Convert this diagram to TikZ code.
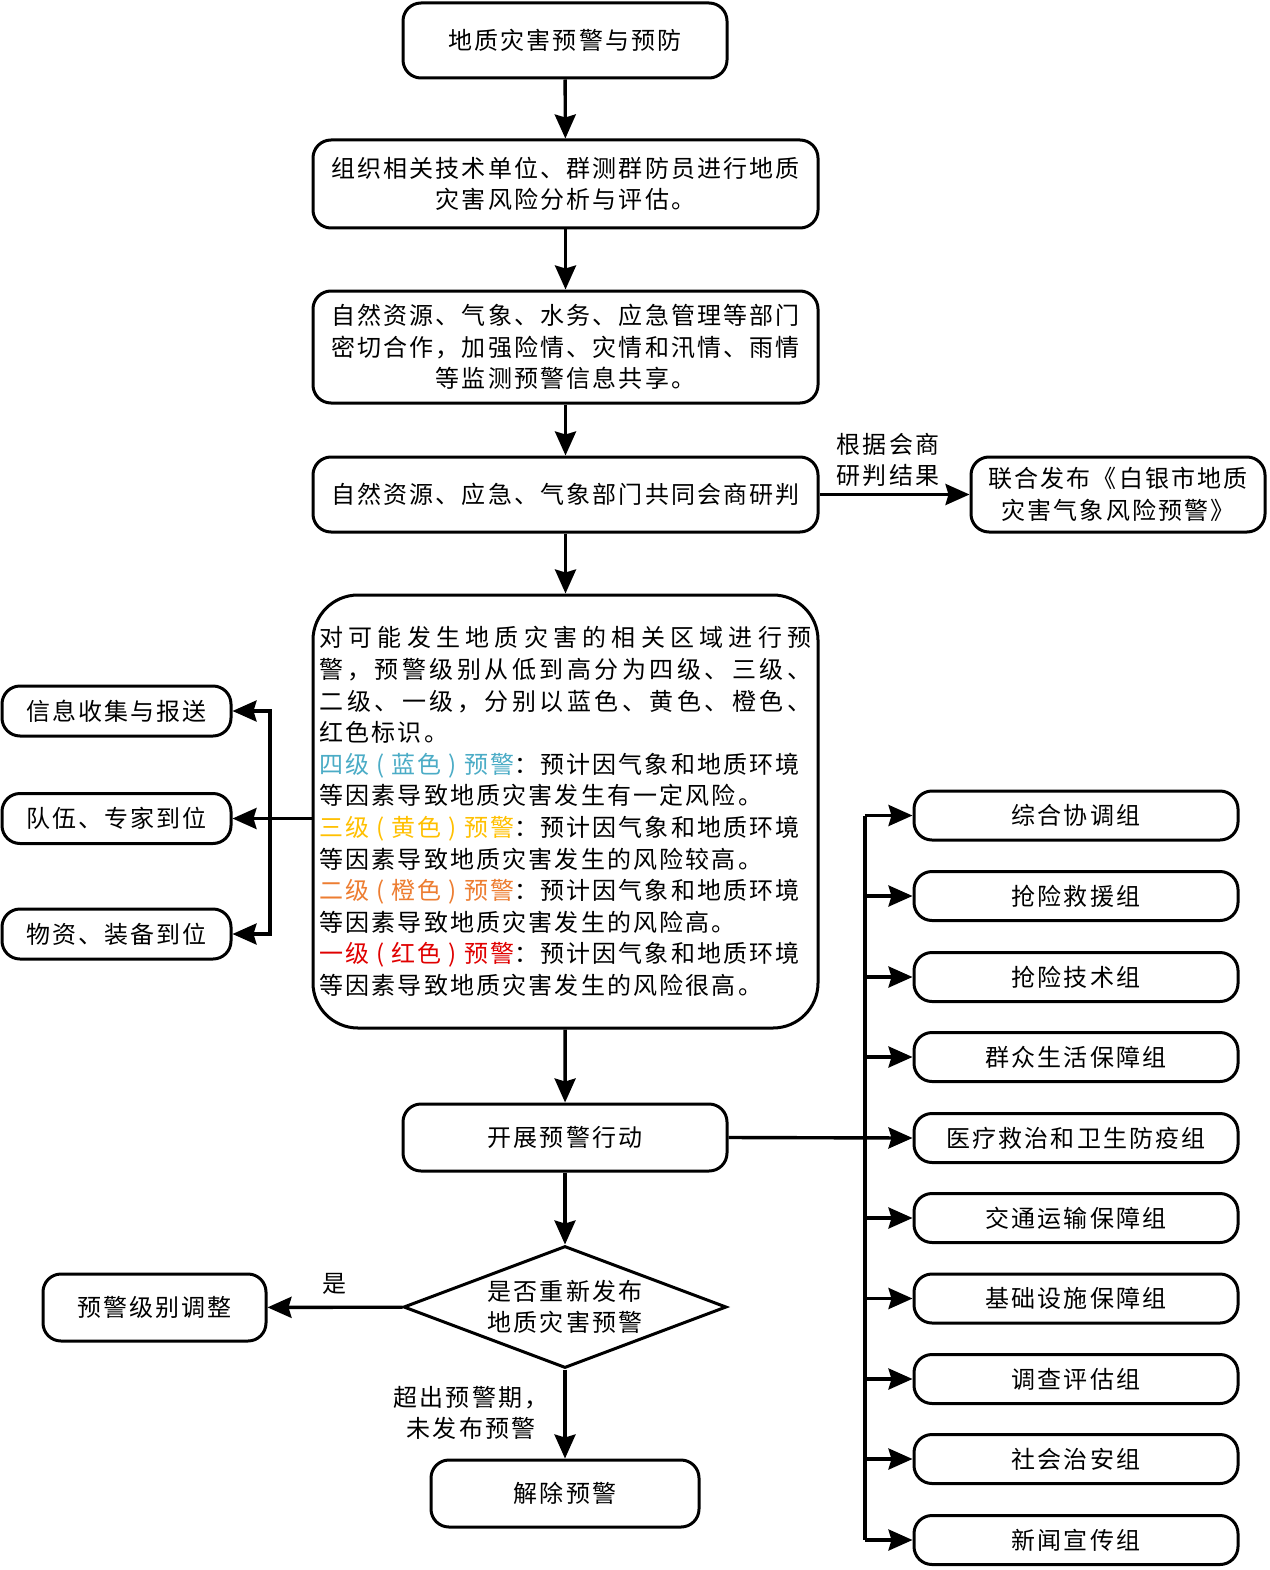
\documentclass[tikz,border=0pt]{standalone}
\usepackage{fontspec}
\usetikzlibrary{shapes.geometric,arrows.meta}
\newfontfamily\cjk{Noto Sans CJK SC}[LetterSpace=9]
\definecolor{wblue}{HTML}{4BACC6}
\definecolor{wyellow}{HTML}{FFC000}
\definecolor{worange}{HTML}{ED7D31}
\definecolor{wred}{HTML}{E00000}
\def\spreadchars#1{\ifx\relax#1\else#1\hfil\expandafter\spreadchars\fi}
\newcommand\jline[1]{\makebox[492pt][s]{\spreadchars#1\relax\unskip}}
\newcommand\lp{\kern7pt(\kern7pt}
\newcommand\rp{\kern7pt)\kern7pt}
\begin{document}
\begin{tikzpicture}[x=1pt,y=-1pt,
  txt/.style={font=\cjk\fontsize{24}{31.6}\selectfont},
  box/.style={txt,draw,line width=3pt,rounded corners=18pt,inner sep=0pt,align=center},
  arr/.style={line width=3.4pt,-{Stealth[length=24pt,width=21pt,inset=3pt]}},
  ln/.style={line width=3.4pt},
  lbl/.style={txt,align=center,inner sep=0pt}]
\fill[white] (0,0) rectangle (1269,1570);
\useasboundingbox (0,0) rectangle (1269,1570);

\node[box,minimum width=324pt,minimum height=75pt] (n1) at (565,40.5) {地质灾害预警与预防};
\node[box,minimum width=505pt,minimum height=88pt] (n2) at (565.5,184) {组织相关技术单位、群测群防员进行地质\\灾害风险分析与评估。};
\node[box,minimum width=505pt,minimum height=112pt] (n3) at (565.5,347) {自然资源、气象、水务、应急管理等部门\\密切合作，加强险情、灾情和汛情、雨情\\等监测预警信息共享。};
\node[box,minimum width=505pt,minimum height=75pt] (n4) at (565.5,494.5) {自然资源、应急、气象部门共同会商研判};
\node[box,minimum width=294pt,minimum height=75pt] (n5) at (1118,494.5) {联合发布《白银市地质\\灾害气象风险预警》};

\node[box,rounded corners=45pt,minimum width=505pt,minimum height=433pt,align=left] (n6) at (565.5,811.5) {\jline{对可能发生地质灾害的相关区域进行预}\\
\jline{警，预警级别从低到高分为四级、三级、}\\
\jline{二级、一级，分别以蓝色、黄色、橙色、}\\
红色标识。\\
{\color{wblue}四级\lp 蓝色\rp 预警}：预计因气象和地质环境\\
等因素导致地质灾害发生有一定风险。\\
{\color{wyellow}三级\lp 黄色\rp 预警}：预计因气象和地质环境\\
等因素导致地质灾害发生的风险较高。\\
{\color{worange}二级\lp 橙色\rp 预警}：预计因气象和地质环境\\
等因素导致地质灾害发生的风险高。\\
{\color{wred}一级\lp 红色\rp 预警}：预计因气象和地质环境\\
等因素导致地质灾害发生的风险很高。};

\node[box,minimum width=229pt,minimum height=50pt] (L1) at (116.5,711) {信息收集与报送};
\node[box,minimum width=229pt,minimum height=50pt] (L2) at (116.5,818.5) {队伍、专家到位};
\node[box,minimum width=229pt,minimum height=50pt] (L3) at (116.5,934) {物资、装备到位};

\node[box,minimum width=324pt,minimum height=67pt] (n7) at (565,1137.5) {开展预警行动};
\node[txt,draw,line width=3pt,shape=diamond,aspect=2.65,inner sep=0pt,minimum width=323pt,minimum height=122pt,align=center] (dia) at (565,1307) {是否重新发布\\地质灾害预警};
\node[box,minimum width=223pt,minimum height=67pt] (adj) at (154.5,1307.5) {预警级别调整};
\node[box,minimum width=268pt,minimum height=67pt] (end) at (565,1493.5) {解除预警};

\foreach \i/\y/\t in {1/815.5/综合协调组,2/896/抢险救援组,3/977/抢险技术组,4/1057/群众生活保障组,5/1138/医疗救治和卫生防疫组,6/1218/交通运输保障组,7/1298.5/基础设施保障组,8/1379/调查评估组,9/1459/社会治安组,10/1540/新闻宣传组}
  \node[box,minimum width=324pt,minimum height=49pt] (R\i) at (1076,\y) {\t};

% labels
\node[lbl] (lab1) at (888,460) {根据会商\\研判结果};
\node[lbl] (lab0) at (334,1284) {是};
\node[lbl] (lab2) at (471,1413) {超出预警期，\\未发布预警};

% main flow
\draw[arr] (n1) -- (n2);
\draw[arr] (n2) -- (n3);
\draw[arr] (n3) -- (n4);
\draw[arr] (n4) -- (n6);
\draw[arr] (n4) -- (n5);
\draw[arr] (n6) -- (n7);
\draw[arr] (n7) -- (dia);
\draw[arr] (dia) -- (adj);
\draw[arr] (dia) -- (end);

% left branches
\coordinate (lt) at (270,818.5);
\draw[arr] (n6.west |- lt) -- (L2.east);
\draw[arr] (lt) |- (L1.east);
\draw[arr] (lt) |- (L3.east);

% right branches
\coordinate (rt) at (865,1138);
\draw[ln] (rt |- R1.west) -- (rt |- R10.west);
\draw[arr] (n7.east) -- (R5.west);
\foreach \i in {1,2,3,4,6,7,8,9,10}
  \draw[arr] (rt |- R\i.west) -- (R\i.west);
\end{tikzpicture}
\end{document}
